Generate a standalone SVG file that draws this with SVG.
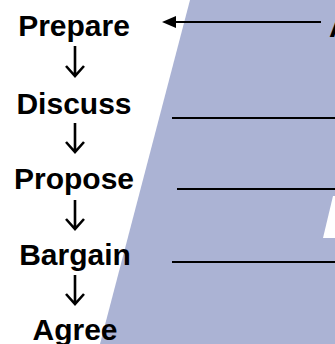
<svg xmlns="http://www.w3.org/2000/svg" width="335" height="344" viewBox="0 0 335 344">
<style>
.lbl{font-family:"Liberation Sans",Arial,sans-serif;font-weight:bold;font-size:30px;fill:#000;text-anchor:middle}
.ln{stroke:#000;stroke-width:2;fill:none}
.dn{stroke:#000;stroke-width:2.6;fill:none;stroke-linecap:butt}
</style>
<rect width="335" height="344" fill="#fff"/>
<polygon points="190,0 335,0 335,344 100,344" fill="#ABB3D4"/>
<polygon points="333,196 335,196 335,238 323,238" fill="#fff"/>
<text x="329" y="37" font-family="Liberation Sans, Arial, sans-serif" font-weight="bold" font-size="30">A</text>
<g id="prepare"><text class="lbl" x="74" y="36">Prepare</text></g>
<g id="discuss"><text class="lbl" x="74" y="114">Discuss</text></g>
<g id="propose"><text class="lbl" x="74" y="189">Propose</text></g>
<g id="bargain"><text class="lbl" x="75" y="265">Bargain</text></g>
<g id="agree"><text class="lbl" x="75" y="340">Agree</text></g>
<g id="connectors">
<path class="dn" d="M75,46V76M66,66L75,76L84,66"/>
<path class="dn" d="M75,123V152M66,142L75,152L84,142"/>
<path class="dn" d="M75,200V229M66,219L75,229L84,219"/>
<path class="dn" d="M75,275V304M66,294L75,304L84,294"/>
<line class="ln" x1="174" y1="22" x2="321" y2="22"/>
<polygon points="162,22 176,16 176,28" fill="#000"/>
<line class="ln" x1="172" y1="118" x2="335" y2="118"/>
<line class="ln" x1="177" y1="189" x2="335" y2="189"/>
<line class="ln" x1="172" y1="262" x2="335" y2="262"/>
</g>
</svg>
